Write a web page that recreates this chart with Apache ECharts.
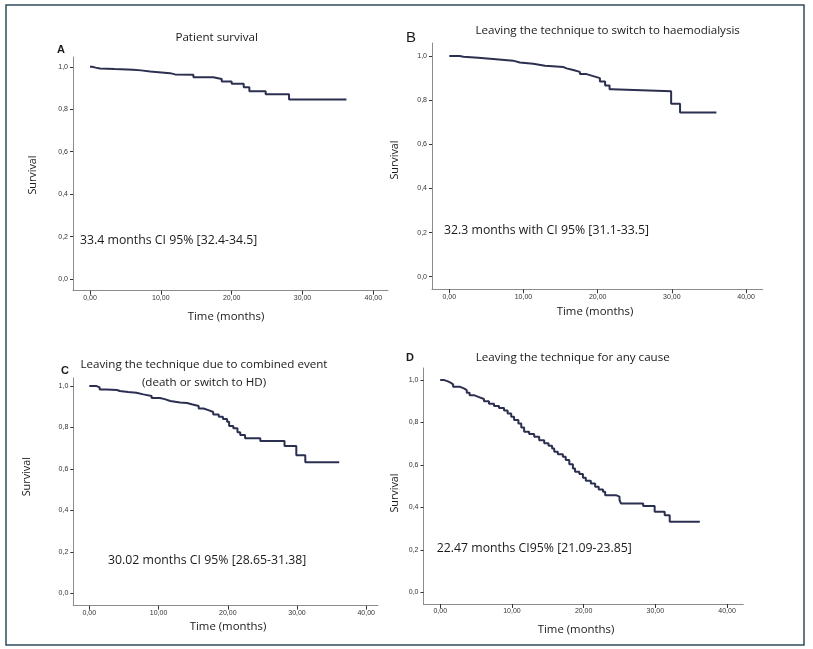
<!DOCTYPE html>
<html>
<head>
<meta charset="utf-8">
<script src="https://cdn.jsdelivr.net/npm/echarts/dist/echarts.min.js"></script>
<style>
html,body{margin:0;padding:0;background:#fff;}
#chart{width:813px;height:649px;}
</style>
</head>
<body>
<div id="chart"></div>
<script>
// ---- Data ----
const xTicks = [0, 10, 20, 30, 40];
const yTicks = [0, 0.2, 0.4, 0.6, 0.8, 1.0];

const titles = ["Patient survival", "Leaving the technique to switch to haemodialysis",
  "Leaving the technique due to combined event\n(death or switch to HD)", "Leaving the technique for any cause"];
const panelLetters = ["A", "B", "C", "D"];
const annotations = ["33.4 months CI 95% [32.4-34.5]", "32.3 months with CI 95% [31.1-33.5]",
  "30.02 months CI 95% [28.65-31.38]", "22.47 months CI95% [21.09-23.85]"];

const timesA = [0, 0.3, 0.8, 1.4, 3.5, 6.1, 7.2, 8.5, 11.3, 12.0, 14.6, 17.4, 18.6, 20.0, 21.7, 22.5, 24.8, 28.1, 36.2];
const survA  = [1.0, 0.996, 0.992, 0.989, 0.986, 0.983, 0.978, 0.970, 0.964, 0.962, 0.951, 0.942, 0.931, 0.920, 0.904, 0.885, 0.870, 0.846, 0.846];

const timesB = [0, 1.4, 1.9, 3.9, 5.9, 8.6, 9.5, 11.3, 12.9, 15.4, 15.8, 16.7, 17.6, 18.5, 19.4, 20.3, 21.0, 21.6, 21.9, 29.9, 31.1, 36.0];
const survB  = [1.0, 0.997, 0.992, 0.987, 0.979, 0.971, 0.965, 0.956, 0.950, 0.944, 0.937, 0.928, 0.918, 0.909, 0.900, 0.884, 0.866, 0.849, 0.840, 0.784, 0.744, 0.744];

const timesC = [0, 1.06, 1.5, 2.5, 4.0, 4.4, 5.6, 6.8, 7.8, 9.0, 10.2, 10.9, 11.7, 13.1, 14.1, 14.8, 15.8, 16.5, 17.2, 17.9, 18.7, 19.3, 19.9, 20.2, 20.8, 21.4, 21.8, 22.5, 24.7, 28.2, 29.9, 31.2, 36.1];
const survC  = [1.0, 0.994, 0.984, 0.981, 0.976, 0.971, 0.968, 0.960, 0.952, 0.942, 0.937, 0.928, 0.921, 0.918, 0.912, 0.904, 0.892, 0.884, 0.875, 0.863, 0.852, 0.841, 0.828, 0.807, 0.796, 0.777, 0.764, 0.748, 0.735, 0.711, 0.666, 0.632, 0.632];

const timesD = [0, 0.56, 1.0, 1.5, 1.8, 2.7, 3.3, 3.7, 4.1, 4.7, 5.4, 6.1, 6.8, 7.5, 8.2, 8.9, 9.4, 9.9, 10.3, 10.9, 11.3, 11.7, 12.4, 13.1, 13.8, 14.5, 15.1, 15.6, 15.9, 16.4, 17.1, 17.5, 18.0, 18.5, 18.8, 19.4, 19.9, 20.3, 21.0, 21.6, 22.1, 22.7, 23.0, 24.5, 25.0, 25.2, 28.3, 29.9, 31.3, 32.0, 36.2];
const survD  = [1.0, 0.995, 0.987, 0.980, 0.969, 0.961, 0.953, 0.940, 0.929, 0.920, 0.911, 0.900, 0.889, 0.878, 0.868, 0.857, 0.843, 0.827, 0.812, 0.796, 0.777, 0.757, 0.746, 0.733, 0.717, 0.702, 0.691, 0.678, 0.662, 0.651, 0.639, 0.623, 0.604, 0.584, 0.568, 0.557, 0.540, 0.526, 0.513, 0.498, 0.485, 0.474, 0.458, 0.451, 0.435, 0.419, 0.407, 0.380, 0.363, 0.333, 0.333];

const allTimes = [timesA, timesB, timesC, timesD];
const allSurv = [survA, survB, survC, survD];

// ---- Layout ----
const grids = [
  {left: 73, top: 57, width: 315, height: 233.7, xmin: -2.4, xmax: 42.07, ymin: -0.055, ymax: 1.046},
  {left: 432, top: 43, width: 330.7, height: 246.3, xmin: -2.33, xmax: 42.24, ymin: -0.057, ymax: 1.059},
  {left: 73.3, top: 378, width: 304.7, height: 227.7, xmin: -2.31, xmax: 41.7, ymin: -0.060, ymax: 1.039},
  {left: 423.5, top: 368, width: 319.8, height: 236, xmin: -2.33, xmax: 42.26, ymin: -0.055, ymax: 1.057}
];

const FONT = '"Open Sans", "Noto Sans", sans-serif';
const chart = echarts.init(document.getElementById('chart'), null, {renderer: 'canvas'});

const axisCommon = {
  axisLine: {show: true, onZero: false, lineStyle: {color: '#8c8c8c', width: 1}},
  axisTick: {show: true, length: 4, lineStyle: {color: '#333', width: 1}},
  splitLine: {show: false}
};

const option = {
  animation: false,
  backgroundColor: '#ffffff',
  grid: grids.map(g => ({left: g.left, top: g.top, width: g.width, height: g.height,
    containLabel: false, outerBoundsMode: 'none'})),
  xAxis: grids.map((g, i) => Object.assign({}, axisCommon, {
    type: 'value', gridIndex: i, min: g.xmin, max: g.xmax,
    axisTick: Object.assign({}, axisCommon.axisTick, {customValues: xTicks}),
    axisLabel: {customValues: xTicks, fontSize: 7, color: '#333', margin: 4, fontFamily: 'Arial, sans-serif',
      formatter: v => v.toFixed(2).replace('.', ',')}
  })),
  yAxis: grids.map((g, i) => Object.assign({}, axisCommon, {
    type: 'value', gridIndex: i, min: g.ymin, max: g.ymax,
    axisTick: Object.assign({}, axisCommon.axisTick, {customValues: yTicks, length: 3}),
    axisLabel: {customValues: yTicks, fontSize: 7, color: '#333', margin: 5, fontFamily: 'Arial, sans-serif',
      formatter: v => v.toFixed(1).replace('.', ',')}
  })),
  series: allTimes.map((t, i) => ({
    type: 'line', xAxisIndex: i, yAxisIndex: i, step: 'end', showSymbol: false,
    lineStyle: {color: '#2b2f50', width: 2},
    data: t.map((x, k) => [x, allSurv[i][k]])
  })),
  graphic: []
};

const g = option.graphic;
// Outer frame
g.push({type: 'rect', shape: {x: 6, y: 5, width: 798, height: 640}, style: {fill: 'none', stroke: '#2f4e5c', lineWidth: 1.5}, silent: true});

function txt(text, x, y, size, opts) {
  g.push(Object.assign({type: 'text', x: x, y: y, style: Object.assign({text: text, fontSize: size, fontFamily: FONT,
    fill: '#1a1a1a', textAlign: 'center', textVerticalAlign: 'middle'}, (opts && opts.style) || {})},
    (opts && opts.extra) || {}));
}

// Titles
txt(titles[0], 216.7, 38, 11.6);
txt(titles[1], 607.7, 31, 11.6);
txt(titles[2], 204, 374, 11.6, {style: {lineHeight: 18}});
txt(titles[3], 572.7, 357.7, 11.6);

// Panel letters
txt(panelLetters[0], 61, 50, 11, {style: {fontWeight: 'bold', fontFamily: 'Arial, sans-serif'}});
txt(panelLetters[1], 411, 38, 15, {style: {fontFamily: 'Arial, sans-serif'}});
txt(panelLetters[2], 65, 370.7, 11, {style: {fontWeight: 'bold', fontFamily: 'Arial, sans-serif'}});
txt(panelLetters[3], 410, 358, 11, {style: {fontWeight: 'bold', fontFamily: 'Arial, sans-serif'}});

// Annotations
txt(annotations[0], 80, 240, 12.3, {style: {textAlign: 'left'}});
txt(annotations[1], 444, 230.7, 12.3, {style: {textAlign: 'left'}});
txt(annotations[2], 108, 560, 12.3, {style: {textAlign: 'left'}});
txt(annotations[3], 436.7, 548.3, 12.3, {style: {textAlign: 'left'}});

// Axis names
const xNamePos = [[226, 317], [595, 311.7], [228, 626.7], [576, 629.3]];
const yNamePos = [[33, 175], [395, 160], [27, 476.7], [395, 493]];
xNamePos.forEach(p => txt('Time (months)', p[0], p[1], 11.4));
yNamePos.forEach(p => txt('Survival', p[0], p[1], 10.8, {extra: {rotation: Math.PI / 2}}));

chart.setOption(option);
</script>
</body>
</html>
